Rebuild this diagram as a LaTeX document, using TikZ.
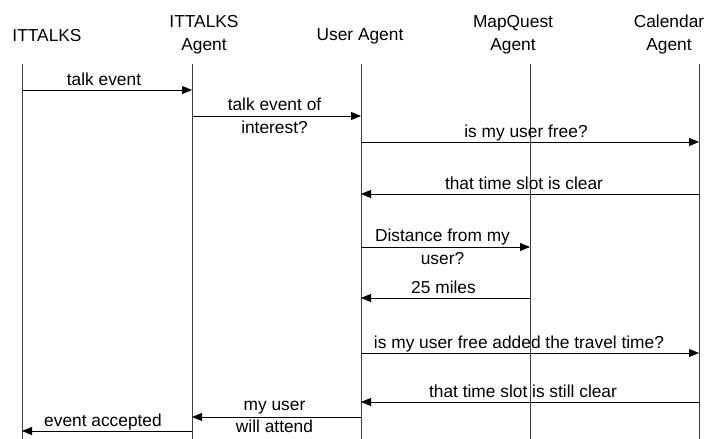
\documentclass[tikz,border=0pt]{standalone}
\usepackage{fontspec}
\setmainfont{Liberation Sans}
\usepackage{tikz}
\usetikzlibrary{arrows.meta, positioning, calc}

\begin{document}
\begin{tikzpicture}[
  x=1bp, y=-1bp,
  head/.style={align=center, inner sep=0pt, font=\fontsize{17.4}{23}\selectfont},
  life/.style={line width=0.9bp, black!75},
  arrow/.style={-{Triangle[length=10bp, width=8bp]}, line width=0.8bp},
  msg/.style={font=\fontsize{17.4}{22.5}\selectfont, text height=0.75em, text depth=0.2em,
              inner xsep=0pt, inner ysep=2bp, above},
  msgtwo/.style={font=\fontsize{17.4}{22.5}\selectfont, align=center, inner sep=0pt}
]
  \useasboundingbox (0,0) rectangle (707,439);

  % headers
  \node[head] (itt)   at (47,36)    {ITTALKS};
  \node[head] (ittag) at (204,34.5) {ITTALKS\\Agent};
  \node[head] (usr)   at (360,36)   {User Agent};
  \node[head] (mapq)  at (513,34.5) {MapQuest\\Agent};
  \node[head] (cal)   at (669,34.5) {Calendar\\Agent};

  % lifelines
  \coordinate (l1) at (22,64);
  \coordinate (l2) at (192,64);
  \coordinate (l3) at (361,64);
  \coordinate (l4) at (530,64);
  \coordinate (l5) at (699,64);
  \coordinate (bot) at (0,439);
  \foreach \l in {l1,l2,l3,l4,l5}
    \draw[life] (\l) -- (\l |- bot);

  % message rows
  \coordinate (m1) at (0,90);
  \coordinate (m2) at (0,116);
  \coordinate (m3) at (0,142);
  \coordinate (m4) at (0,194);
  \coordinate (m5) at (0,247);
  \coordinate (m6) at (0,298);
  \coordinate (m7) at (0,353);
  \coordinate (m8) at (0,402);
  \coordinate (m9) at (0,417);
  \coordinate (m10) at (0,431);

  \draw[arrow] (l1 |- m1) -- node[msg, xshift=-3bp] {talk event} (l2 |- m1);
  \draw[arrow] (l2 |- m2) -- node[msgtwo, xshift=-2bp] {talk event of\\interest?} (l3 |- m2);
  \draw[arrow] (l3 |- m3) -- node[msg, xshift=-4bp] {is my user free?} (l5 |- m3);
  \draw[arrow] (l5 |- m4) -- node[msg, xshift=-6bp] {that time slot is clear} (l3 |- m4);
  \draw[arrow] (l3 |- m5) -- node[msgtwo, xshift=-3bp] {Distance from my\\user?} (l4 |- m5);
  \draw[arrow] (l4 |- m6) -- node[msg, xshift=-2bp] {25 miles} (l3 |- m6);
  \draw[arrow] (l3 |- m7) -- node[msg, xshift=-11bp] {is my user free added the travel time?} (l5 |- m7);
  \draw[arrow] (l5 |- m8) -- node[msg, xshift=-7bp] {that time slot is still clear} (l3 |- m8);
  \draw[arrow] (l3 |- m9) -- node[msgtwo, xshift=-2bp] {my user\\will attend} (l2 |- m9);
  \draw[arrow] (l2 |- m10) -- node[msg, xshift=-4bp] {event accepted} (l1 |- m10);
\end{tikzpicture}
\end{document}
